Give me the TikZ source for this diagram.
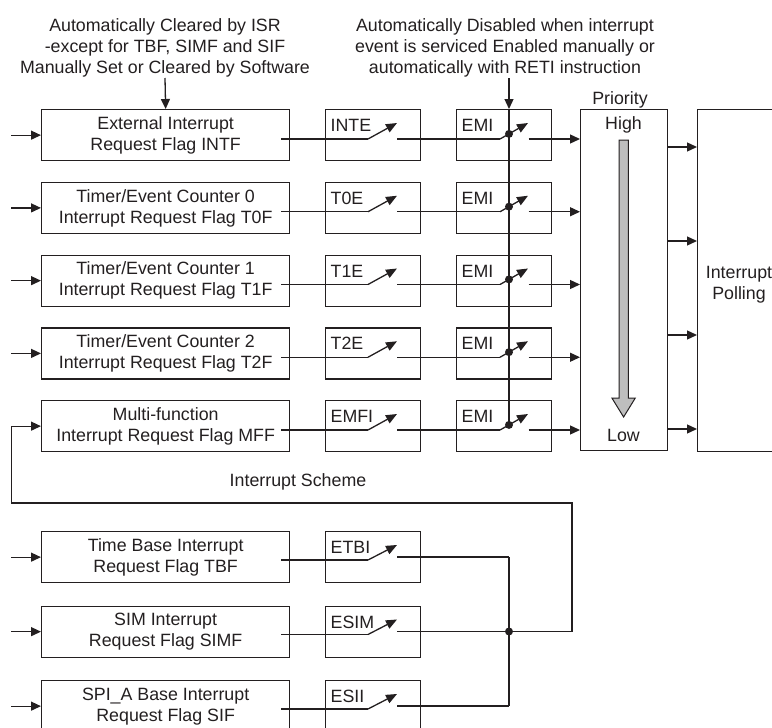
\documentclass[tikz,border=0pt]{standalone}
\usepackage{fontspec}
\setmainfont{Liberation Sans}
\usetikzlibrary{arrows.meta,calc}
\definecolor{ink}{RGB}{35,31,32}
\definecolor{shaft}{RGB}{190,190,190}
\begin{document}
\begin{tikzpicture}[x=1pt,y=-1pt, line width=1.3pt, color=ink,
  font=\fontsize{17.8}{21}\selectfont,
  flagbox/.style={draw=ink, rectangle, inner sep=0pt, minimum width=248pt, minimum height=51pt, anchor=north west, align=center},
  enbox/.style={draw=ink, rectangle, inner sep=0pt, minimum width=95pt, minimum height=51pt, anchor=north west},
  lbl/.style={anchor=base west, inner sep=0pt},
  txt/.style={inner sep=0pt, align=center},
  arr/.style={-{Triangle[length=10pt,width=9pt]}},
  swarr/.style={-{Triangle[length=11pt,width=9pt]}},
  dotc/.style={circle, fill=ink, draw=none, inner sep=0pt, minimum size=8pt}]
\useasboundingbox (0,0) rectangle (772,728);
\clip (0,0) rectangle (772,728);

% priority and polling
\node[draw=ink, rectangle, inner sep=0pt, minimum width=87pt, minimum height=341pt, anchor=north west] (pr) at (580,109) {};
\node[draw=ink, rectangle, inner sep=0pt, minimum width=110pt, minimum height=342pt, anchor=north west] (pl) at (697,109) {};
\node[txt, anchor=north] (plt) at (739,265.5) {Interrupt\\Polling};
\node[txt, anchor=base] (prt) at (620,104) {Priority};
\node[txt, anchor=base] (hi) at (623.5,129.3) {High};
\node[txt, anchor=base] (lo) at (623.5,441) {Low};
\draw[line width=1pt, fill=shaft] (619,140) -- (628.3,140) -- (628.3,398) -- (635.3,398) -- (623.6,417) -- (611.9,398) -- (619,398) -- cycle;
\foreach \dy in {38,132,226,320}
  \draw[arr] ($(pr.north east)+(0,\dy)$) -- ($(pl.north west)+(0,\dy)$);

% top texts
\node[txt, anchor=north] (t1) at (165,18.2) {Automatically Cleared by ISR\\-except for TBF, SIMF and SIF\\Manually Set or Cleared by Software};
\node[txt, anchor=north] (t2) at (505,18.2) {Automatically Disabled when interrupt\\event is serviced Enabled manually or\\automatically with RETI instruction};

% upper rows
\foreach \i/\t/\tx/\en in {1/109/{External Interrupt\\Request Flag INTF}/INTE,
                           2/181.75/{Timer/Event Counter 0\\Interrupt Request Flag T0F}/T0E,
                           3/254.5/{Timer/Event Counter 1\\Interrupt Request Flag T1F}/T1E,
                           4/327.25/{Timer/Event Counter 2\\Interrupt Request Flag T2F}/T2E,
                           5/400/{Multi-function\\Interrupt Request Flag MFF}/EMFI}{
  \node[flagbox] (f\i) at (41,\t) {\tx};
  \node[enbox] (e\i) at (325,\t) {};
  \node[lbl] (el\i) at (330,\t+22.7) {\en};
  \node[enbox] (m\i) at (456,\t) {};
  \node[lbl] (ml\i) at (461,\t+22.7) {EMI};
  \coordinate (a\i) at (281,\t+30);
  \coordinate (b\i) at (368,\t+30);
  \coordinate (c\i) at (397,\t+14);
  \coordinate (d\i) at (397,\t+30);
  \coordinate (g\i) at (500,\t+30);
  \coordinate (h\i) at (528,\t+14);
  \coordinate (o\i) at (528.5,\t+30);
  \coordinate (k\i) at (509,\t+24.9);
  \draw (a\i) -- (b\i);
  \draw[swarr] (b\i) -- (c\i);
  \draw (d\i) -- (g\i);
  \draw[swarr] (g\i) -- (h\i);
  \draw[arr] (o\i) -- (o\i -| pr.west);
}

% lower rows
\foreach \i/\t/\tx/\en in {6/531/{Time Base Interrupt\\Request Flag TBF}/ETBI,
                           7/605.5/{SIM Interrupt\\Request Flag SIMF}/ESIM,
                           8/680/{SPI\_A Base Interrupt\\Request Flag SIF}/ESII}{
  \node[flagbox] (f\i) at (41,\t) {\tx};
  \node[enbox] (e\i) at (325,\t) {};
  \node[lbl] (el\i) at (330,\t+22.7) {\en};
  \coordinate (a\i) at (281,\t+29);
  \coordinate (b\i) at (368,\t+29);
  \coordinate (c\i) at (397,\t+14);
  \coordinate (d\i) at (397,\t+26);
  \coordinate (j\i) at (509,\t+26);
  \draw (a\i) -- (b\i);
  \draw[swarr] (b\i) -- (c\i);
  \draw (d\i) -- (j\i);
}

% input arrows
\foreach \i in {1,2,3,4,6,7,8}{
  \coordinate (in\i) at ($(f\i.west)+(-30,0)$);
  \draw[arr] (in\i) -- (f\i.west);
}

% EMI global enable line
\coordinate (ta1) at (165,78);
\draw[arr] (ta1) -- (f1.north);
\coordinate (ta2) at (509,78);
\coordinate (tb2) at (509,109);
\draw[arr] (ta2) -- (tb2);
\draw (tb2) -- (k5);
\foreach \i in {1,...,5} \node[dotc] (kd\i) at (k\i) {};

% lower junction and loop back to MFF
\draw (j6) -- (j8);
\node[dotc] (jd) at (j7) {};
\coordinate (lpa) at (572,503);
\coordinate (lpb) at (11.3,503);
\draw[arr] (j7) -| (lpa) -| (lpb) |- (f5.west);

\node[txt, anchor=base] (sch) at (298,486) {Interrupt Scheme};
\end{tikzpicture}
\end{document}
